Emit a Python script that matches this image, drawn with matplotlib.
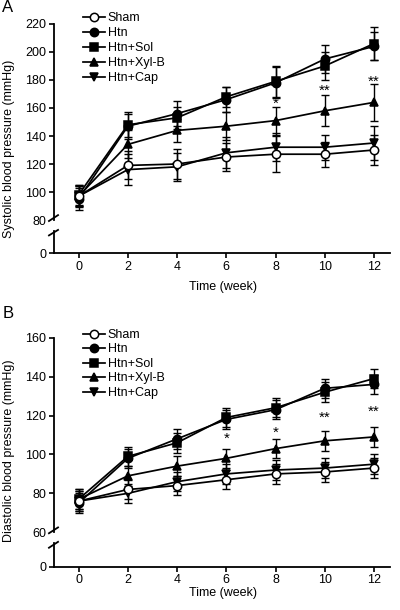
import matplotlib
matplotlib.use('Agg')
import matplotlib.pyplot as plt

plt.rcParams['font.family'] = ['Liberation Sans', 'DejaVu Sans']

weeks = [0, 2, 4, 6, 8, 10, 12]
groups = ['Sham', 'Htn', 'Htn+Sol', 'Htn+Xyl-B', 'Htn+Cap']

# systolic (mean, sd)
sbp_sham = [97, 119, 120, 125, 127, 127, 130]
sbp_htn = [95, 147, 156, 166, 178, 195, 204]
sbp_sol = [98, 148, 153, 168, 179, 190, 206]
sbp_xyl = [97, 134, 144, 147, 151, 158, 164]
sbp_cap = [97, 116, 118, 128, 132, 132, 135]
sbp_sham_err = [7, 10, 11, 10, 13, 9, 11]
sbp_htn_err = [8, 9, 9, 9, 11, 10, 10]
sbp_sol_err = [7, 9, 8, 7, 11, 10, 12]
sbp_xyl_err = [7, 10, 8, 10, 10, 11, 13]
sbp_cap_err = [8, 11, 10, 11, 10, 9, 12]

# diastolic (mean, sd)
dbp_sham = [76, 82, 84, 87, 90, 91, 93]
dbp_htn = [75, 98, 108, 118, 123, 134, 136]
dbp_sol = [77, 99, 106, 119, 124, 132, 139]
dbp_xyl = [77, 89, 94, 98, 103, 107, 109]
dbp_cap = [76, 80, 86, 90, 92, 93, 95]
dbp_sham_err = [5, 5, 5, 5, 5, 5, 5]
dbp_htn_err = [5, 5, 5, 5, 5, 5, 5]
dbp_sol_err = [5, 5, 5, 5, 5, 5, 5]
dbp_xyl_err = [5, 5, 5, 5, 5, 5, 5]
dbp_cap_err = [5, 5, 5, 5, 5, 5, 5]

# significance marks (week, y, label)
sbp_star_weeks = [8, 10, 12]
sbp_star_y = [163, 172, 179]
sbp_star_txt = ['*', '**', '**']
dbp_star_weeks = [6, 8, 10, 12]
dbp_star_y = [108, 111, 119, 122]
dbp_star_txt = ['*', '*', '**', '**']

markers = ['o', 'o', 's', '^', 'v']
faces = ['white', 'black', 'black', 'black', 'black']

FS = 9
fig = plt.figure(figsize=(4.0, 6.1), dpi=100)


def panel(top_rect, low_rect, means, errs, ylim, yticks, ylabel, lab_y, low_top,
          stars, letter, letter_y, xlab_y, legend_top, spacing):
    ax = fig.add_axes(top_rect)
    axl = fig.add_axes(low_rect)
    handles = []
    for i, (m, e) in enumerate(zip(means, errs)):
        ax.errorbar(weeks, m, yerr=e, fmt='none', ecolor='black', elinewidth=1.0,
                    capsize=3.2, capthick=1.0, zorder=2)
        h, = ax.plot(weeks, m, color='black', lw=1.25, marker=markers[i],
                     ms=6, mfc=faces[i], mec='black', mew=1.1, zorder=3 + (i == 0))
        handles.append(h)
    for wk, yv, t in zip(*stars):
        ax.text(wk, yv, t, ha='center', va='center', fontsize=11)

    for a in (ax, axl):
        a.set_xlim(-1, 12.65)
        a.spines['top'].set_visible(False)
        a.spines['right'].set_visible(False)
        a.tick_params(direction='out', length=3.5, width=1.2, labelsize=FS, pad=2)
        for s in a.spines.values():
            s.set_linewidth(1.3)
    ax.set_ylim(*ylim)
    ax.set_yticks(yticks)
    ax.yaxis.get_major_ticks()[0].tick1line.set_visible(False)
    ax.spines['bottom'].set_visible(False)
    ax.set_xticks([])

    axl.set_ylim(0, low_top)
    axl.set_yticks([0])
    axl.set_xticks(weeks)
    axl.patch.set_alpha(0)

    # break marks
    kw = dict(color='black', lw=1.3, clip_on=False)
    ax.plot([-0.015, 0.012], [-0.005, 0.025], transform=ax.transAxes, **kw)
    axl.plot([-0.015, 0.012], [0.8, 1.05], transform=axl.transAxes, **kw)

    ax.legend(handles, groups, loc='upper left', bbox_to_anchor=(0.085, legend_top),
              frameon=False, fontsize=FS, handlelength=1.8, handletextpad=0.2,
              labelspacing=spacing, borderaxespad=0, borderpad=0)

    fig.text(0.022, lab_y, ylabel, rotation=90, ha='center', va='center', fontsize=FS)
    fig.text(0.558, xlab_y, 'Time (week)', ha='center', va='center', fontsize=FS)
    fig.text(0.006, letter_y, letter, ha='left', va='top', fontsize=12)


panel([0.135, 0.6393, 0.84, 0.3214], [0.135, 0.5852, 0.84, 0.0361],
      [sbp_sham, sbp_htn, sbp_sol, sbp_xyl, sbp_cap],
      [sbp_sham_err, sbp_htn_err, sbp_sol_err, sbp_xyl_err, sbp_cap_err],
      (80, 220), [80, 100, 120, 140, 160, 180, 200, 220],
      'Systolic blood pressure (mmHg)', 0.756, 15.7,
      (sbp_star_weeks, sbp_star_y, sbp_star_txt), 'A', 1.0, 0.529, 1.06, 0.24)

panel([0.135, 0.1274, 0.84, 0.319], [0.135, 0.0710, 0.84, 0.0388],
      [dbp_sham, dbp_htn, dbp_sol, dbp_xyl, dbp_cap],
      [dbp_sham_err, dbp_htn_err, dbp_sol_err, dbp_xyl_err, dbp_cap_err],
      (60, 160), [60, 80, 100, 120, 140, 160],
      'Diastolic blood pressure (mmHg)', 0.261, 12.2,
      (dbp_star_weeks, dbp_star_y, dbp_star_txt), 'B', 0.499, 0.028, 1.045, 0.2)

fig.savefig('out.png', dpi=100)
